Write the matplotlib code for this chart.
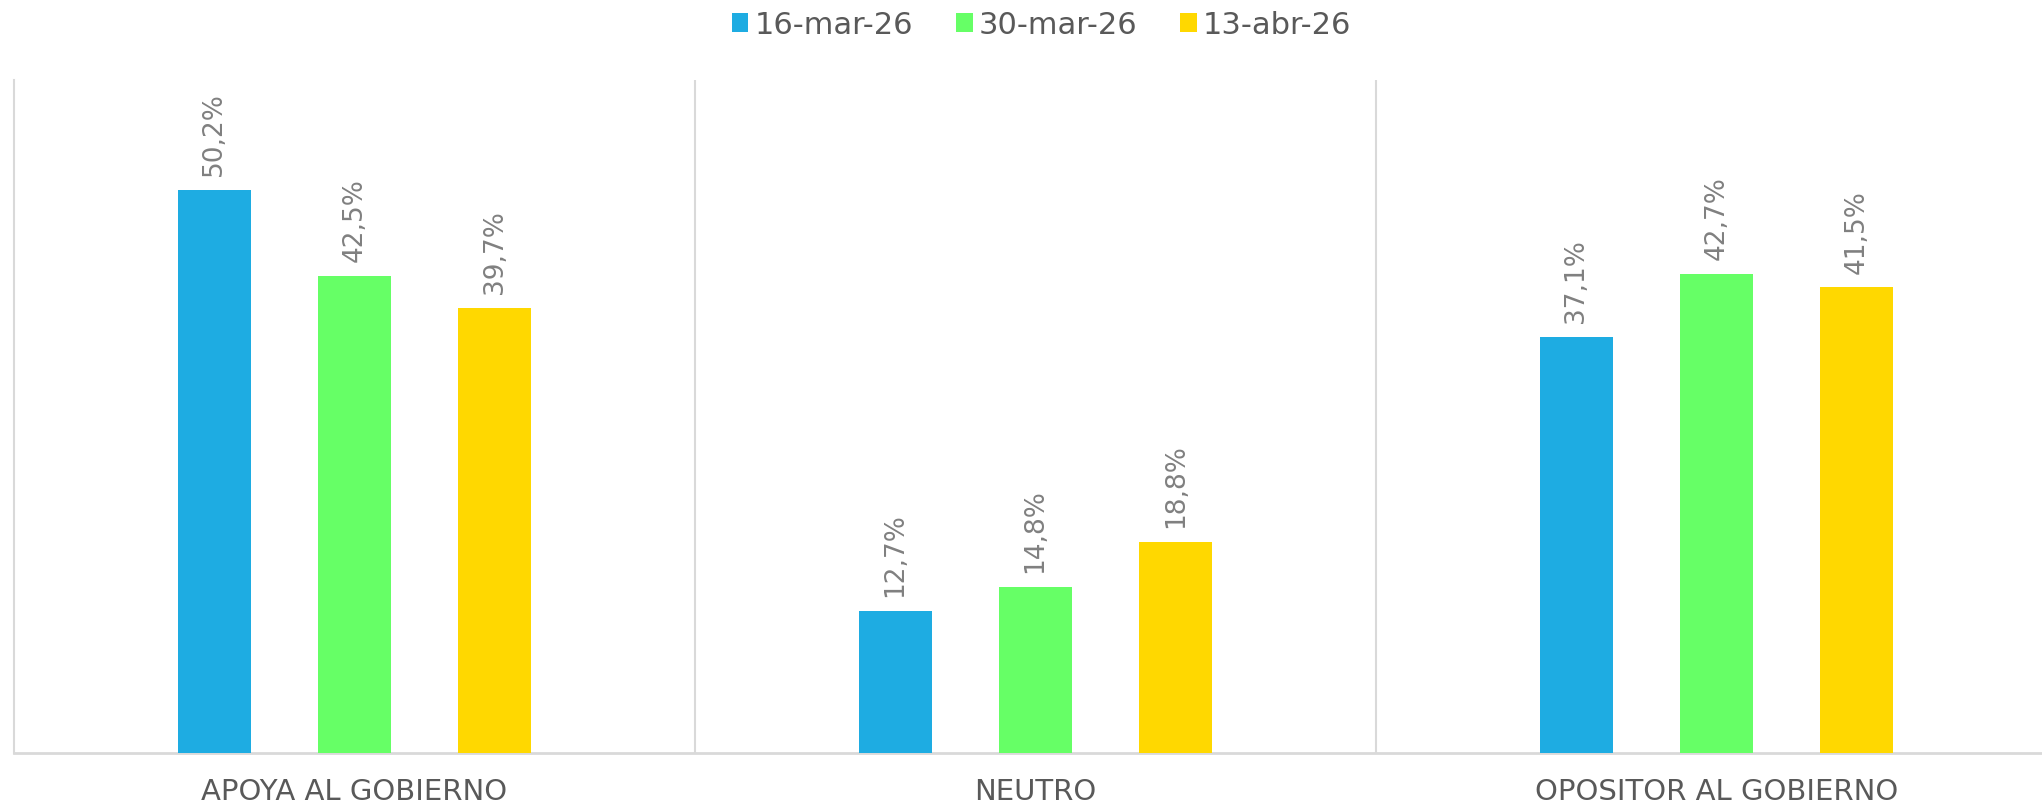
import matplotlib
matplotlib.use("Agg")
import matplotlib.pyplot as plt
import numpy as np
from matplotlib.patches import Patch

categories = ["APOYA AL GOBIERNO", "NEUTRO", "OPOSITOR AL GOBIERNO"]
series_names = ["16-mar-26", "30-mar-26", "13-abr-26"]
vals_16mar = [50.2, 12.7, 37.1]
vals_30mar = [42.5, 14.8, 42.7]
vals_13abr = [39.7, 18.8, 41.5]
colors = ["#1EACE2", "#66FF66", "#FFD800"]

plt.rcParams['font.family'] = ['DejaVu Sans']

fig = plt.figure(figsize=(20.42, 8.031), dpi=100)
ax = fig.add_axes([14/2042, 50/803, 1 - 14/2042, (753-80)/803])

x = np.arange(len(categories))
width = 0.107
offset = 0.206
series = [vals_16mar, vals_30mar, vals_13abr]
for i, (vals, col) in enumerate(zip(series, colors)):
    pos = x + (i - 1) * offset
    ax.bar(pos, vals, width, color=col, zorder=3)
    for xp, v in zip(pos, vals):
        ax.annotate(f"{v:.1f}%".replace(".", ","), (xp, v), xytext=(0, 10),
                    textcoords="offset points", rotation=90, ha="center", va="bottom",
                    fontsize=19, color="#808080")

ax.set_xlim(-0.5, -0.5 + 2028/681)
ax.set_ylim(0, 60)
ax.set_yticks([])
ax.set_xticks(x)
ax.set_xticklabels(categories, fontsize=21, color="#595959")
ax.tick_params(axis="x", length=0, pad=18)

for s in ["top", "right"]:
    ax.spines[s].set_visible(False)
ax.spines["left"].set_color("#d9d9d9")
ax.spines["left"].set_linewidth(1.5)
ax.spines["bottom"].set_color("#d9d9d9")
ax.spines["bottom"].set_linewidth(2)
for b in [0.5, 1.5]:
    ax.axvline(b, color="#d9d9d9", lw=1.5, zorder=1)

handles = [Patch(facecolor=c, edgecolor="none") for c in colors]
fig.legend(handles, series_names, loc="center", bbox_to_anchor=(0.51, 1 - 25/803),
           ncol=3, frameon=False, fontsize=22, labelcolor="#595959",
           handlelength=0.55, handleheight=0.55, handletextpad=0.2, columnspacing=1.4)

fig.savefig("out.png", dpi=100)
